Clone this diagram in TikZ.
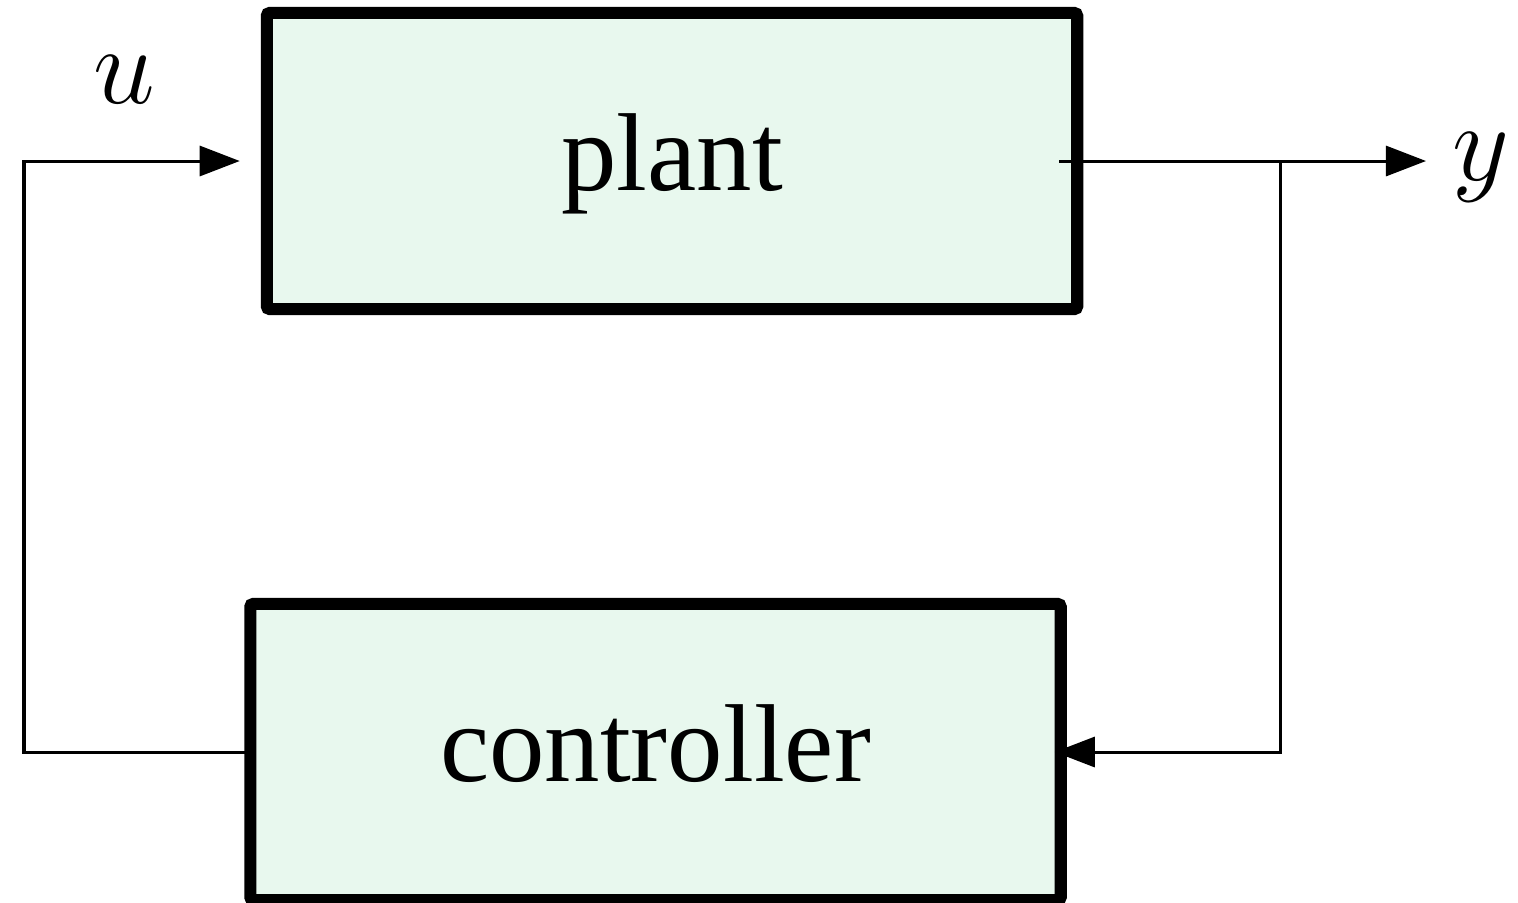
\RequirePackage{fix-cm}
\documentclass[tikz,border=0pt]{standalone}
\usepackage{fontspec}
\setmainfont{Liberation Serif}
\usetikzlibrary{arrows.meta,calc}
\definecolor{boxfill}{RGB}{232,248,238}
\tikzset{
  blockbox/.style={draw=black, fill=boxfill, line width=0.12cm, rounded corners=0.03cm,
    outer sep=0pt, inner sep=0pt, minimum width=8.1cm, minimum height=2.96cm,
    text height=0.8cm, text depth=0.22cm,
    font=\fontsize{31.5}{38}\selectfont},
  wire/.style={line width=0.03cm, line join=miter},
  arr/.style={wire, -{Triangle[length=0.4cm, width=0.3cm]}},
  lbl/.style={inner sep=0pt, font=\fontsize{31.5}{38}\selectfont}
}
\begin{document}
\begin{tikzpicture}[x=0.01cm, y=-0.01cm]
\useasboundingbox (0,0) rectangle (1518,902);
\node[blockbox] (plant) at (672,161) {plant};
\node[blockbox] (controller) at (655.5,752) {controller};
\coordinate (lft) at (24,752);
\coordinate (ystart) at ($(plant.east)+(-18,0)$);
\coordinate (yend) at (1426,161);
\coordinate (branch) at (1280,161);
\coordinate (branchdown) at (1280,752);
\draw[arr, shorten >=0.27cm] (controller.west) -- (lft) |- (plant.west);
\draw[arr] (ystart) -- (yend);
\draw[arr, shorten >=-0.06cm] (branch) -- (branchdown) -- (controller.east);
\node[lbl, anchor=base west] (ulabel) at (93,103) {$u$};
\node[lbl, anchor=base west] (ylabel) at (1452,180) {$y$};
\end{tikzpicture}
\end{document}
